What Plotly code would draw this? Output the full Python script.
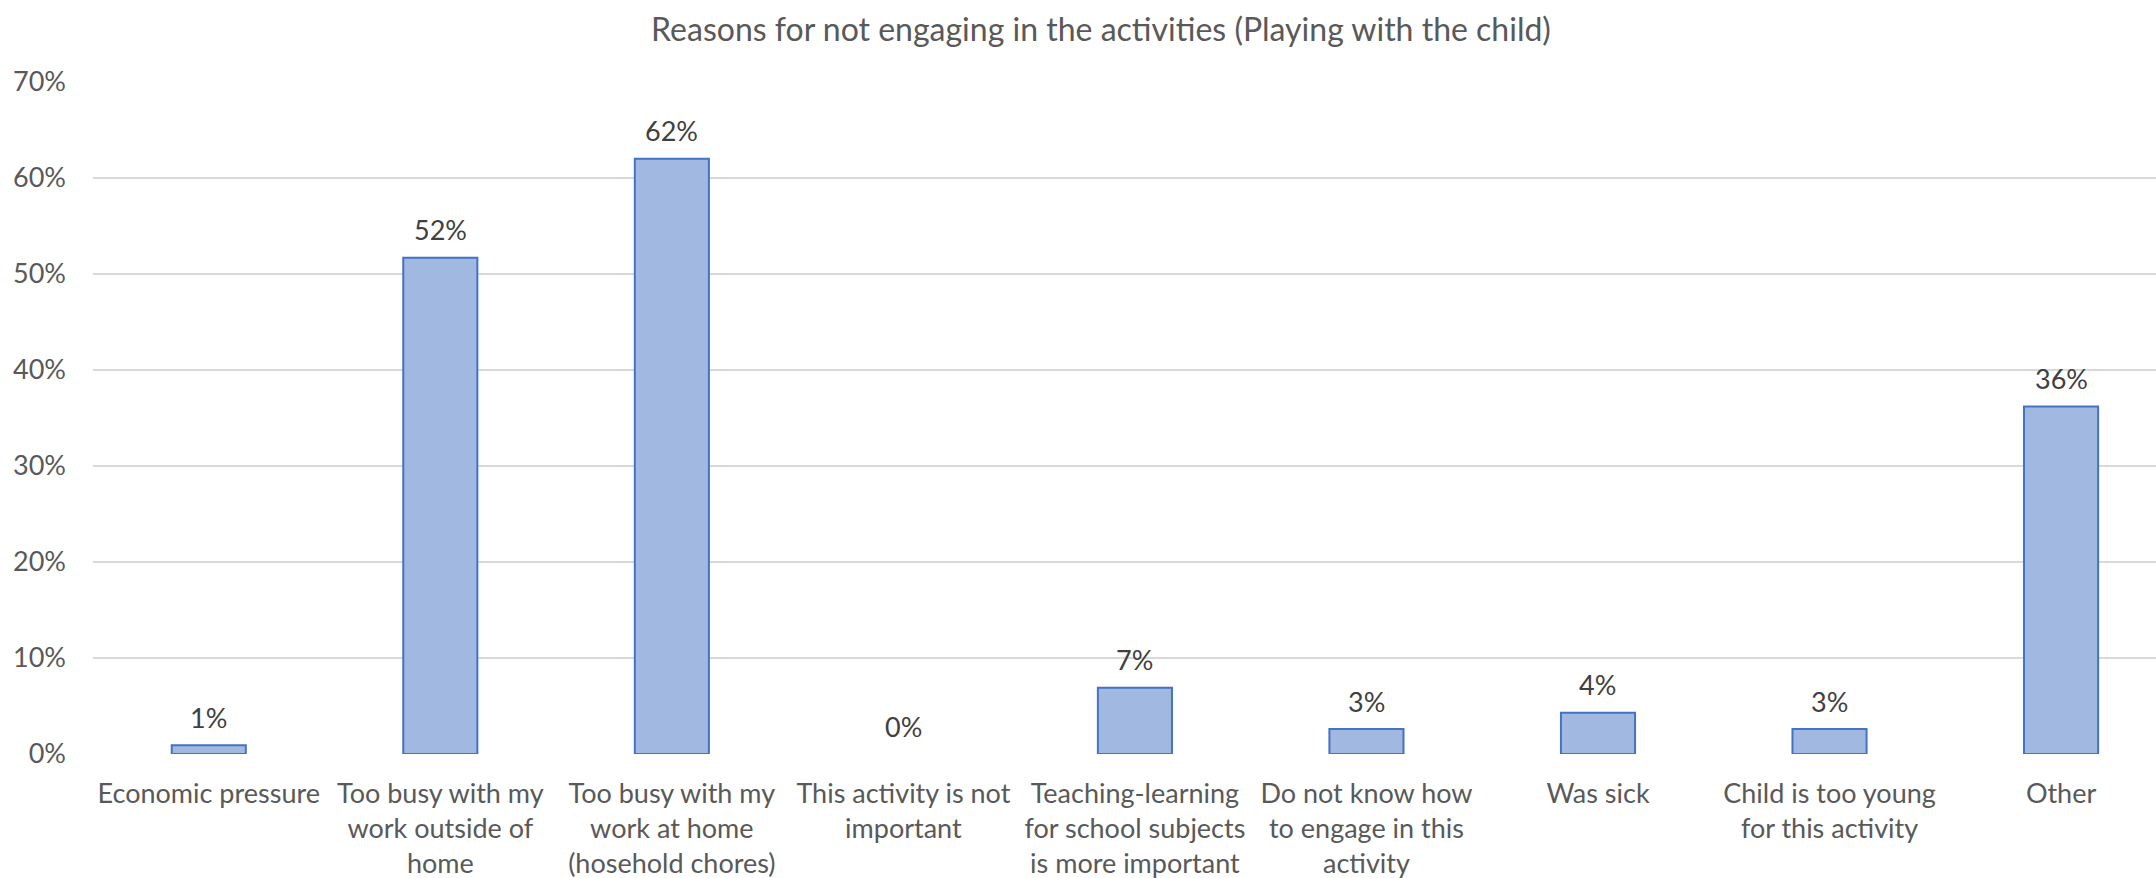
import plotly.graph_objects as go

# Survey results: reasons for not playing with the child
categories = [
    "Economic pressure",
    "Too busy with my<br>work outside of<br>home",
    "Too busy with my<br>work at home<br>(hosehold chores)",
    "This activity is not<br>important",
    "Teaching-learning<br>for school subjects<br>is more important",
    "Do not know how<br>to engage in this<br>activity",
    "Was sick",
    "Child is too young<br>for this activity",
    "Other",
]
shares = [0.009, 0.517, 0.620, 0.0, 0.069, 0.026, 0.043, 0.026, 0.362]
y_ticks = [0, 0.1, 0.2, 0.3, 0.4, 0.5, 0.6, 0.7]

FONT = "Lato"
TEXT_GREY = "#595959"
LABEL_GREY = "#404040"

# zero-height bars get no outline
outline_widths = [2 if v > 0 else 0 for v in shares]

fig = go.Figure()
fig.add_trace(go.Bar(
    x=list(range(len(categories))),
    y=shares,
    width=0.32,
    marker=dict(color="#A1B8E1", line=dict(color="#4472C4", width=outline_widths)),
    hoverinfo="skip",
))

# value labels sitting above each bar
for i, v in enumerate(shares):
    fig.add_annotation(
        x=i, y=v, text=f"{v:.0%}", showarrow=False,
        yanchor="middle", yshift=28,
        font=dict(family=FONT, size=27, color=LABEL_GREY),
    )

fig.update_layout(
    width=2156, height=878,
    margin=dict(l=93, r=0, t=82, b=124),
    paper_bgcolor="white", plot_bgcolor="white",
    showlegend=False,
    title=dict(
        text="Reasons for not engaging in the activities (Playing with the child)",
        x=1101 / 2156, xref="container", xanchor="center",
        y=1 - 30 / 878, yref="container", yanchor="middle",
        font=dict(family=FONT, size=32, color=TEXT_GREY),
    ),
)
fig.update_xaxes(
    range=[-0.5, 8.41],
    tickmode="array", tickvals=list(range(len(categories))), ticktext=categories,
    tickangle=0, showgrid=False, zeroline=False, showline=False, ticks="",
    ticklabelstandoff=21,
    tickfont=dict(family=FONT, size=27, color=TEXT_GREY),
)
fig.update_yaxes(
    range=[0, 0.7], tickmode="array", tickvals=y_ticks,
    tickformat=".0%", showgrid=True, gridcolor="#D9D9D9", gridwidth=2,
    zeroline=False, showline=False, ticks="",
    ticklabelstandoff=26,
    tickfont=dict(family=FONT, size=27, color=TEXT_GREY),
)

fig.write_html("out.html")
